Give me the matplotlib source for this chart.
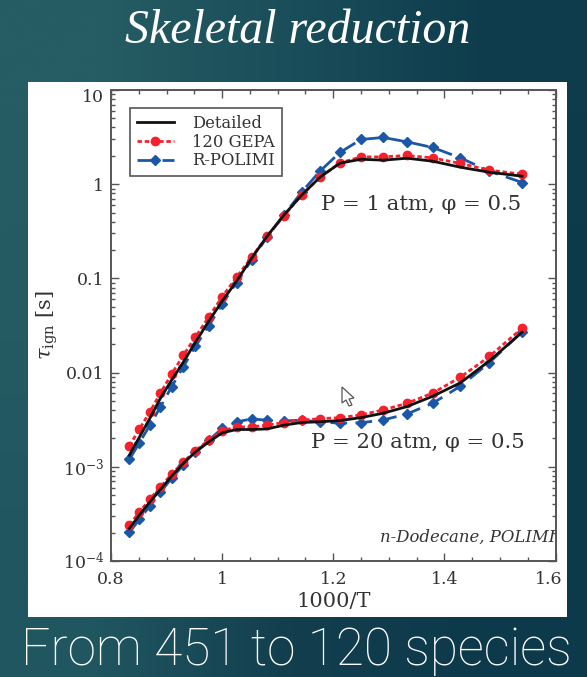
import matplotlib
matplotlib.use('Agg')
import matplotlib.pyplot as plt
import numpy as np
from matplotlib.patches import Polygon, Rectangle
from matplotlib.transforms import ScaledTranslation

plt.rcParams['font.family'] = 'DejaVu Serif'
plt.rcParams['mathtext.fontset'] = 'dejavuserif'

# 1000/T of the simulated points
x = [0.833, 0.851, 0.870, 0.889, 0.909, 0.930, 0.952, 0.976, 1.0, 1.026, 1.053, 1.081,
     1.111, 1.143, 1.176, 1.212, 1.25, 1.29, 1.333, 1.379, 1.429, 1.481, 1.54]

# log10(tau)
det_1atm = [-2.877, -2.686, -2.484, -2.272, -2.081, -1.890, -1.677, -1.454, -1.242, -1.030, -0.786, -0.552,
            -0.329, -0.117, 0.074, 0.223, 0.265, 0.255, 0.276, 0.244, 0.180, 0.127, 0.085]
gepa_1atm = [-2.778, -2.601, -2.417, -2.217, -2.017, -1.818, -1.621, -1.409, -1.196, -0.987, -0.775, -0.554,
             -0.337, -0.114, 0.072, 0.226, 0.290, 0.290, 0.305, 0.279, 0.220, 0.149, 0.106]
polimi_1atm = [-2.922, -2.746, -2.558, -2.364, -2.152, -1.939, -1.720, -1.504, -1.274, -1.044, -0.804, -0.559,
               -0.329, -0.085, 0.138, 0.337, 0.475, 0.496, 0.449, 0.390, 0.279, 0.138, 0.018]
det_20atm = [-3.655, -3.514, -3.373, -3.241, -3.100, -2.965, -2.842, -2.736, -2.640, -2.604, -2.604, -2.598,
             -2.558, -2.530, -2.522, -2.509, -2.478, -2.431, -2.360, -2.251, -2.108, -1.876, -1.571]
gepa_20atm = [-3.617, -3.482, -3.344, -3.213, -3.079, -2.951, -2.827, -2.718, -2.619, -2.576, -2.576, -2.558,
              -2.530, -2.505, -2.489, -2.479, -2.449, -2.396, -2.325, -2.217, -2.048, -1.829, -1.528]
polimi_20atm = [-3.697, -3.559, -3.415, -3.270, -3.121, -2.983, -2.848, -2.718, -2.593, -2.523, -2.492, -2.505,
                -2.513, -2.505, -2.523, -2.537, -2.532, -2.503, -2.438, -2.325, -2.144, -1.894, -1.564]

ytick_vals = [1e-4, 1e-3, 0.01, 0.1, 1, 10]
ytick_labels = [r'$10^{-4}$', r'$10^{-3}$', '0.01', '0.1', '1', '10']
xtick_vals = [0.8, 1.0, 1.2, 1.4, 1.6]
xtick_labels = ['0.8', '1', '1.2', '1.4', '1.6']

W, H = 587, 677
GREY = '#555555'
TXT = '#333333'
RED = '#f5212d'
BLUE = '#1b57a8'
BLACK = '#111111'

fig = plt.figure(figsize=(W / 100, H / 100), dpi=100)

# slide background
bg = fig.add_axes([0, 0, 1, 1], zorder=0)
grad = np.array([[[38, 92, 99], [26, 78, 90], [14, 60, 76]],
                 [[36, 90, 98], [21, 70, 85], [13, 58, 74]],
                 [[32, 86, 96], [18, 62, 78], [13, 58, 75]]], dtype=float) / 255
bg.imshow(grad, aspect='auto', interpolation='bilinear', extent=[0, W, H, 0])
bg.set_xlim(0, W)
bg.set_ylim(H, 0)
bg.axis('off')
bg.add_patch(Rectangle((28, 82), 539, 535, fc='white', ec='none'))
bg.text(298, 31, 'Skeletal reduction', family='Liberation Serif', style='italic', color='white',
        fontsize=34.5, ha='center', va='center')
bg.text(296, 651, 'From 451 to 120 species', family='Roboto', weight='light', color='white',
        fontsize=37, ha='center', va='center')

ax = fig.add_axes([111 / W, (H - 561) / H, 444.5 / W, 471 / H], zorder=1)
ax.patch.set_alpha(0)

px = np.array(x)


def draw(det, gepa, polimi, labels=False):
    ax.plot(px, 10 ** np.array(polimi), color=BLUE, ls=(0, (6, 3)), lw=2, marker='D', ms=5.5, mec=BLUE,
            label='R-POLIMI' if labels else None, zorder=2)
    ax.plot(px, 10 ** np.array(gepa), color=RED, ls=(0, (1.6, 1)), lw=2, marker='o', ms=6, mec=RED,
            label='120 GEPA' if labels else None, zorder=3)
    ax.plot(px, 10 ** np.array(det), color=BLACK, lw=2, label='Detailed' if labels else None, zorder=4)


draw(det_1atm, gepa_1atm, polimi_1atm, True)
draw(det_20atm, gepa_20atm, polimi_20atm)

ax.set_yscale('log')
ax.set_xlim(0.8, 1.6)
ax.set_ylim(1e-4, 10)
ax.set_xticks(xtick_vals)
ax.set_xticklabels(xtick_labels)
ax.set_xticks([0.85, 0.9, 0.95, 1.05, 1.1, 1.15, 1.25, 1.3, 1.35, 1.45, 1.5, 1.55], minor=True)
ax.set_yticks(ytick_vals)
ax.set_yticklabels(ytick_labels)
ax.tick_params(which='major', direction='in', top=True, right=True, length=6, width=1, color=GREY,
               labelcolor=TXT, labelsize=12.5, pad=5)
ax.tick_params(which='minor', direction='in', top=True, right=True, length=3, width=1, color=GREY)
ax.tick_params(axis='x', which='major', pad=7)
for s in ax.spines.values():
    s.set_color(GREY)
    s.set_linewidth(1.4)

# top label sits a bit below its tick, last x label a bit left of its tick
lab = ax.get_yticklabels()[-1]
lab.set_transform(lab.get_transform() + ScaledTranslation(0, -5 / 100, fig.dpi_scale_trans))
lab = ax.get_xticklabels()[-1]
lab.set_transform(lab.get_transform() + ScaledTranslation(-7 / 100, 0, fig.dpi_scale_trans))

ax.set_xlabel('1000/T', fontsize=15, color=TXT, labelpad=3)
ax.set_ylabel(r'$\tau_{\rm ign}$ [s]', fontsize=15, color=TXT, labelpad=2)

handles, labels = ax.get_legend_handles_labels()
order = [2, 1, 0]
leg = ax.legend([handles[i] for i in order], [labels[i] for i in order], loc='upper left',
                bbox_to_anchor=((130 - 111) / 444.5, 1 - (108 - 90) / 471), borderaxespad=0, fontsize=11.8,
                fancybox=False, framealpha=1, edgecolor=GREY, handlelength=2.3, labelspacing=0.12, borderpad=0.4,
                handletextpad=1.1)
leg.get_frame().set_linewidth(1.2)
for t in leg.get_texts():
    t.set_color(TXT)

ax.text(421, 204, 'P = 1 atm, φ = 0.5', transform=bg.transData, fontsize=15.3, color=TXT, ha='center', va='center')
ax.text(418, 442, 'P = 20 atm, φ = 0.5', transform=bg.transData, fontsize=15.3, color=TXT, ha='center', va='center')
ax.text(555, 537, 'n-Dodecane, POLIMI', transform=bg.transData, fontsize=11.9, style='italic', color=TXT,
        ha='right', va='center')

# mouse pointer caught in the screenshot
cursor = Polygon([(342, 387), (342, 403), (346, 400), (349, 406), (352, 405), (349, 399), (354, 398)], closed=True,
                 fc='white', ec='#555555', lw=0.9, transform=bg.transData, zorder=6)
ax.add_patch(cursor)

fig.savefig('out.png', dpi=100)
